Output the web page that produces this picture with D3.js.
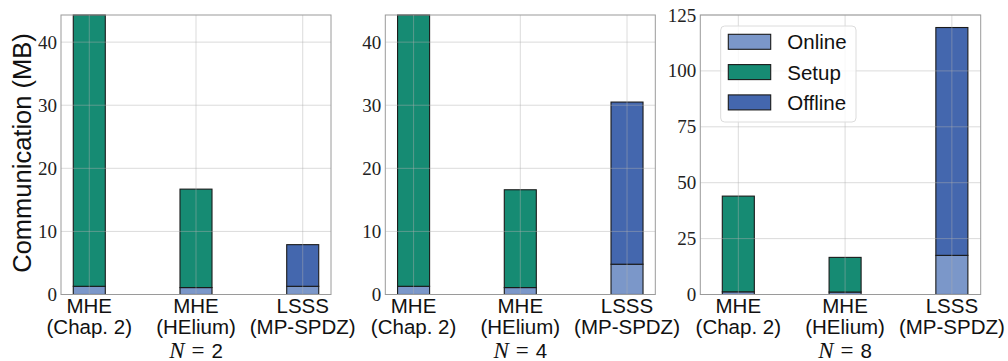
<!DOCTYPE html>
<html>
<head>
<meta charset="utf-8">
<script src="https://d3js.org/d3.v7.min.js"></script>
<style>
  body { margin: 0; background: #fff; }
  svg { display: block; }
</style>
</head>
<body>
<div id="chart"></div>
<script>
// ---- data ----
var categories = [["MHE", "(Chap. 2)"], ["MHE", "(HElium)"], ["LSSS", "(MP-SPDZ)"]];
var partyCounts = [2, 4, 8];
// per panel (N = 2, 4, 8), per category
var online  = [[1.3, 1.1, 1.3], [1.3, 1.1, 4.8], [1.2, 1.1, 17.5]];
var setup   = [[43.0, 15.6, 0], [43.0, 15.5, 0], [42.8, 15.5, 0]];
var offline = [[0, 0, 6.6], [0, 0, 25.7], [0, 0, 101.9]];
var yTicks  = [[0, 10, 20, 30, 40], [0, 10, 20, 30, 40], [0, 25, 50, 75, 100, 125]];
var yMax    = [44.3, 44.3, 125];
var seriesNames = ["Online", "Setup", "Offline"];

var colors = { Online: "#7b97c9", Setup: "#168b73", Offline: "#4467ae" };

var width = 1008, height = 361;
var plotTop = 15, plotBottom = 294.5;
// panel frames (left, right) and x domains
var panels = [
  { x0: 61, x1: 331, dom: [-0.265, 2.265] },
  { x0: 385.3, x1: 655.3, dom: [-0.265, 2.265] },
  { x0: 700.3, x1: 980.7, dom: [-0.356, 2.27] }
];
var barWidth = 0.3;
var sans = "'Liberation Sans', Arial, sans-serif";
var serif = "'Liberation Serif', 'Times New Roman', serif";

var svg = d3.select("#chart").append("svg")
  .attr("width", width).attr("height", height);

// y label
svg.append("text")
  .attr("transform", "translate(31,153) rotate(-90)")
  .attr("text-anchor", "middle")
  .style("font-family", sans)
  .style("font-size", "25.5px")
  .attr("fill", "#111")
  .text("Communication (MB)");

panels.forEach(function(p, pi) {
  var x = d3.scaleLinear().domain(p.dom).range([p.x0, p.x1]);
  var y = d3.scaleLinear().domain([0, yMax[pi]]).range([plotBottom, plotTop]);
  var g = svg.append("g");

  var clipId = "clip" + pi;
  g.append("clipPath").attr("id", clipId)
    .append("rect").attr("x", p.x0).attr("y", plotTop - 1)
    .attr("width", p.x1 - p.x0).attr("height", plotBottom - plotTop + 1);

  // stacked bars
  var rows = categories.map(function(c, i) {
    return { i: i, Online: online[pi][i], Setup: setup[pi][i], Offline: offline[pi][i] };
  });
  var stack = d3.stack().keys(seriesNames)(rows);
  var bars = g.append("g").attr("clip-path", "url(#" + clipId + ")");
  stack.forEach(function(s) {
    bars.selectAll(null)
      .data(s.filter(function(d) { return d[1] - d[0] > 0; }))
      .enter().append("rect")
      .attr("x", function(d) { return x(d.data.i - barWidth / 2); })
      .attr("width", function(d) { return x(barWidth) - x(0); })
      .attr("y", function(d) { return y(d[1]); })
      .attr("height", function(d) { return y(d[0]) - y(d[1]); })
      .attr("fill", colors[s.key])
      .attr("stroke", "#1a1a1a")
      .attr("stroke-width", 1.1);
  });

  // grid on top of bars
  var grid = g.append("g").attr("stroke", "#b0b0b0").attr("stroke-opacity", 0.45).attr("stroke-width", 1);
  yTicks[pi].forEach(function(t) {
    grid.append("line").attr("x1", p.x0).attr("x2", p.x1).attr("y1", y(t)).attr("y2", y(t));
  });
  categories.forEach(function(c, i) {
    grid.append("line").attr("x1", x(i)).attr("x2", x(i)).attr("y1", plotTop).attr("y2", plotBottom);
  });

  // frame
  g.append("rect").attr("x", p.x0).attr("y", plotTop)
    .attr("width", p.x1 - p.x0).attr("height", plotBottom - plotTop)
    .attr("fill", "none").attr("stroke", "#9a9a9a").attr("stroke-width", 1);

  // y tick labels
  var yAxis = d3.axisLeft(y).tickValues(yTicks[pi]).tickSize(0).tickPadding(4);
  var ya = g.append("g").attr("transform", "translate(" + p.x0 + ",0)").call(yAxis);
  ya.select(".domain").remove();
  ya.selectAll("text")
    .style("font-family", serif)
    .style("font-size", "19px")
    .attr("fill", "#222");

  // x tick labels
  categories.forEach(function(c, i) {
    var t = g.append("text").attr("text-anchor", "middle")
      .style("font-family", sans)
      .style("font-size", "20.5px").attr("fill", "#111");
    c.forEach(function(line, li) {
      t.append("tspan").attr("x", x(i)).attr("y", 313 + li * 21).text(line);
    });
  });

  // N label
  var nl = g.append("text").attr("text-anchor", "middle")
    .attr("x", x(1)).attr("y", 358)
    .attr("fill", "#111");
  nl.append("tspan").style("font-family", serif).style("font-style", "italic")
    .style("font-size", "23px").text("N");
  nl.append("tspan").attr("dx", 7).style("font-family", serif)
    .style("font-size", "23px").text("=");
  nl.append("tspan").attr("dx", 7).style("font-family", sans)
    .style("font-size", "20.5px").text(partyCounts[pi]);

  // legend in last panel
  if (pi === 2) {
    var lg = g.append("g").attr("transform", "translate(720.7,26)");
    lg.append("rect").attr("width", 135.3).attr("height", 96).attr("rx", 4)
      .attr("fill", "#fff").attr("fill-opacity", 0.8)
      .attr("stroke", "#dcdcdc").attr("stroke-width", 1);
    seriesNames.forEach(function(name, k) {
      lg.append("rect").attr("x", 7.6).attr("y", 8.3 + k * 30.3)
        .attr("width", 42.4).attr("height", 15)
        .attr("fill", colors[name]).attr("stroke", "#1a1a1a").attr("stroke-width", 1.1);
      lg.append("text").attr("x", 66.6).attr("y", 8.3 + k * 30.3 + 15)
        .style("font-family", sans)
        .style("font-size", "20.5px").attr("fill", "#111").text(name);
    });
  }
});
</script>
</body>
</html>
